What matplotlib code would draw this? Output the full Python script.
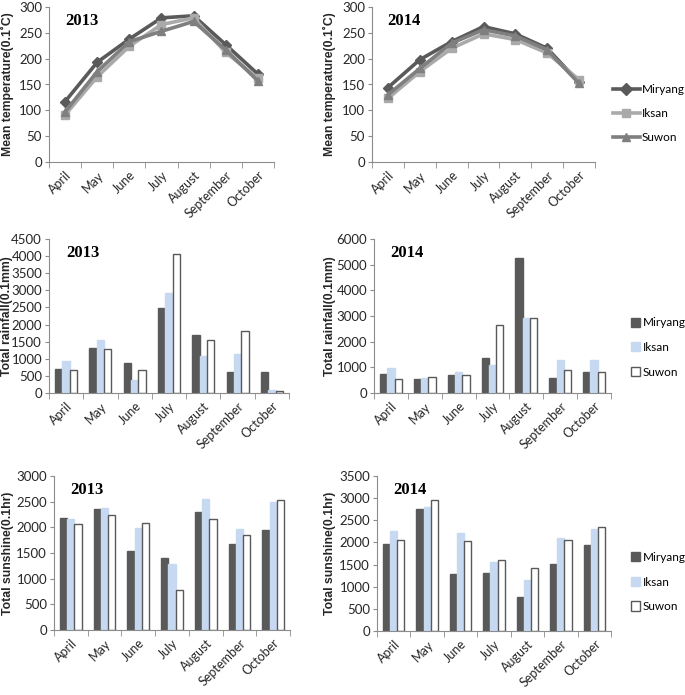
import numpy as np
import matplotlib.pyplot as plt
from matplotlib.patches import Patch
from matplotlib.lines import Line2D

plt.rcParams['font.family'] = ['Lato', 'DejaVu Sans']

months = ['April', 'May', 'June', 'July', 'August', 'September', 'October']
sites = ['Miryang', 'Iksan', 'Suwon']

# mean temperature (0.1 C)
temp_2013_miryang = [117, 193, 238, 279, 283, 227, 170]
temp_2013_iksan = [91, 165, 224, 266, 279, 212, 162]
temp_2013_suwon = [97, 175, 233, 253, 272, 217, 157]
temp_2014_miryang = [144, 198, 233, 262, 248, 220, 154]
temp_2014_iksan = [123, 175, 220, 248, 237, 211, 159]
temp_2014_suwon = [130, 181, 230, 256, 244, 217, 152]

# total rainfall (0.1 mm)
rain_2013_miryang = [706, 1324, 882, 2490, 1696, 627, 608]
rain_2013_iksan = [931, 1559, 382, 2931, 1078, 1147, 88]
rain_2013_suwon = [676, 1284, 676, 4059, 1559, 1824, 59]
rain_2014_miryang = [730, 548, 704, 1369, 5267, 574, 834]
rain_2014_iksan = [978, 587, 821, 1108, 2907, 1278, 1278]
rain_2014_suwon = [548, 639, 691, 2660, 2920, 913, 834]

# total sunshine (0.1 hr)
sun_2013_miryang = [2188, 2351, 1539, 1403, 2292, 1682, 1942]
sun_2013_iksan = [2156, 2370, 1981, 1279, 2545, 1961, 2494]
sun_2013_suwon = [2071, 2240, 2091, 779, 2162, 1851, 2539]
sun_2014_miryang = [1968, 2764, 1286, 1317, 766, 1508, 1937]
sun_2014_iksan = [2266, 2810, 2220, 1547, 1141, 2106, 2312]
sun_2014_suwon = [2060, 2963, 2029, 1593, 1424, 2044, 2343]

line_colors = ['#5a5a5a', '#aaaaaa', '#7f7f7f']
line_markers = ['D', 's', '^']
bar_faces = ['#595959', '#c6d9f1', 'white']
bar_edges = ['#595959', '#c6d9f1', '#595959']
spine_col = '#8c8c8c'
text_col = '#262626'

W, H = 685, 695
fig = plt.figure(figsize=(W / 100, H / 100), dpi=100)


def px_rect(x0, y0, x1, y1):
    # pixel box (left, top, right, bottom) -> figure fraction rect
    return [x0 / W, 1 - y1 / H, (x1 - x0) / W, (y1 - y0) / H]


def style_axes(ax, ymax, ystep, ylabel, year, label_x):
    x = np.arange(len(months))
    ax.set_xlim(-0.5, len(months) - 0.5)
    ax.set_ylim(0, ymax)
    ax.set_yticks(np.arange(0, ymax + 1, ystep))
    ax.set_xticks(x)
    ax.set_xticklabels(months, rotation=45, ha='right', rotation_mode='anchor', fontsize=9)
    ax.set_xticks(np.arange(-0.5, len(months)), minor=True)
    ax.tick_params(axis='x', which='major', length=0, pad=5, labelcolor=text_col)
    ax.tick_params(axis='x', which='minor', length=4, color=spine_col)
    ax.tick_params(axis='y', length=3, color=spine_col, labelsize=9.5, pad=2,
                   labelcolor=text_col)
    for s in ['top', 'right']:
        ax.spines[s].set_visible(False)
    for s in ['left', 'bottom']:
        ax.spines[s].set_color(spine_col)
    ax.set_ylabel(ylabel, fontsize=8.8, fontweight='bold', family='Liberation Sans',
                  color=text_col)
    # label_x is the right edge (baseline side) of the rotated label, in pixels
    pos = ax.get_position()
    ax.yaxis.set_label_coords((label_x / W - pos.x0) / pos.width, 0.5)
    ax.text(0.07, 0.96, year, transform=ax.transAxes, fontsize=12, fontweight='bold',
            family='Liberation Serif', va='top', ha='left')


def line_panel(rect, series, year, label_x, legend=False):
    ax = fig.add_axes(rect)
    x = np.arange(len(months))
    for vals, c, m in zip(series, line_colors, line_markers):
        ax.plot(x, vals, color=c, marker=m, markersize=6 if m != 'D' else 5, lw=2.6)
    style_axes(ax, 300, 50, 'Mean temperature(0.1˚C)', year, label_x)
    if legend:
        handles = [Line2D([], [], color=c, marker=m, lw=2.6, markersize=6)
                   for c, m in zip(line_colors, line_markers)]
        ax.legend(handles, sites, loc='center left', bbox_to_anchor=(1.058, 0.315),
                  frameon=False, fontsize=8.5, handlelength=2.3, handletextpad=0.15,
                  labelspacing=1.1, borderaxespad=0)
    return ax


def bar_panel(rect, series, year, ymax, ystep, ylabel, label_x, legend=False,
              leg_x=1.06, leg_y=0.3):
    ax = fig.add_axes(rect)
    x = np.arange(len(months))
    w = 0.215
    for i, vals in enumerate(series):
        ax.bar(x + (i - 1) * w, vals, width=w, color=bar_faces[i],
               edgecolor=bar_edges[i], linewidth=1.0)
    style_axes(ax, ymax, ystep, ylabel, year, label_x)
    if legend:
        handles = [Patch(facecolor=f, edgecolor=e) for f, e in zip(bar_faces, bar_edges)]
        ax.legend(handles, sites, loc='center left', bbox_to_anchor=(leg_x, leg_y),
                  frameon=False, fontsize=8.5, handlelength=0.8, handleheight=0.8,
                  handletextpad=0.25, labelspacing=1.15, borderaxespad=0)
    return ax


line_panel(px_rect(49, 7, 274, 162),
           [temp_2013_miryang, temp_2013_iksan, temp_2013_suwon], '2013', 14)
line_panel(px_rect(372, 7, 595, 162),
           [temp_2014_miryang, temp_2014_iksan, temp_2014_suwon], '2014', 336,
           legend=True)

bar_panel(px_rect(49, 239, 289, 393),
          [rain_2013_miryang, rain_2013_iksan, rain_2013_suwon], '2013',
          4500, 500, 'Total rainfall(0.1mm)', 13)
bar_panel(px_rect(374, 239, 611, 393),
          [rain_2014_miryang, rain_2014_iksan, rain_2014_suwon], '2014',
          6000, 1000, 'Total rainfall(0.1mm)', 336, legend=True,
          leg_x=1.063, leg_y=0.295)

bar_panel(px_rect(54, 476, 290, 630),
          [sun_2013_miryang, sun_2013_iksan, sun_2013_suwon], '2013',
          3000, 500, 'Total sunshine(0.1hr)', 14)
bar_panel(px_rect(377, 476, 611, 631),
          [sun_2014_miryang, sun_2014_iksan, sun_2014_suwon], '2014',
          3500, 500, 'Total sunshine(0.1hr)', 336, legend=True,
          leg_x=1.064, leg_y=0.316)

fig.savefig('out.png', dpi=100)
